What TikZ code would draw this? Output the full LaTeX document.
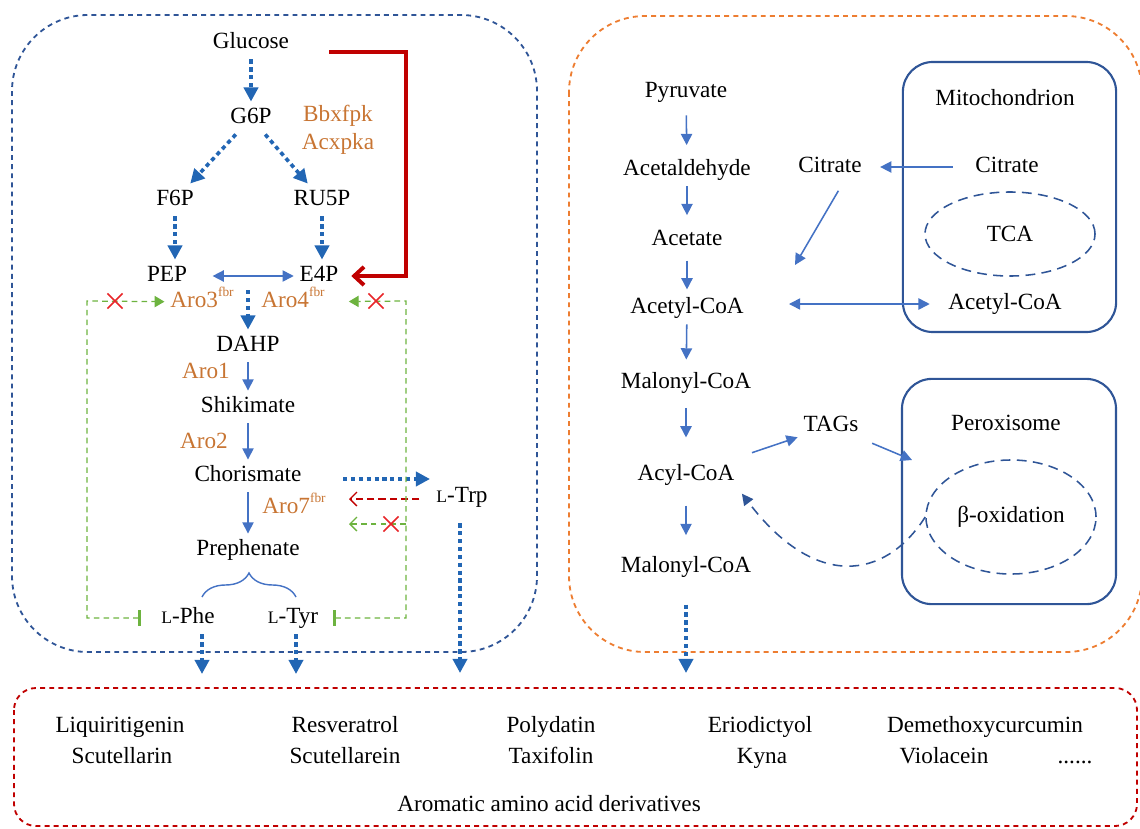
\documentclass[tikz,border=0pt]{standalone}
\usepackage{fontspec}
\setmainfont{Liberation Serif}
\usetikzlibrary{arrows.meta,shapes.geometric,shapes.misc,decorations.pathreplacing}

\definecolor{boxblue}{HTML}{2F5597}
\definecolor{flowblue}{HTML}{4472C4}
\definecolor{dotblue}{HTML}{2266B4}
\definecolor{enzorange}{HTML}{C87533}
\definecolor{cellorange}{HTML}{ED7D31}
\definecolor{darkred}{HTML}{C00000}
\definecolor{fbgreen}{HTML}{6DB33F}
\definecolor{xred}{HTML}{E8262A}

\newcommand{\Lconf}{{\fontsize{12.5}{13}\selectfont L}}
\newcommand{\fbrsup}{\raisebox{1.0ex}{\fontsize{9.5}{10}\selectfont fbr}}

\begin{document}
\begin{tikzpicture}[x=0.025cm, y=-0.025cm,
    every node/.style={font=\fontsize{16.5}{19}\selectfont},
    met/.style={text height=11.5pt, text depth=3.5pt, inner sep=4pt},
    enz/.style={met, text=enzorange},
    flow/.style={draw=flowblue, line width=1.1pt, -{Triangle[length=8pt,width=8pt]}},
    dotflow/.style={draw=dotblue, line width=2.6pt, dash pattern=on 3pt off 2.6pt, -{Triangle[length=10pt,width=10pt]}},
    redline/.style={draw=darkred, line width=2.8pt, -{Straight Barb[length=7pt,width=13pt]}},
    fbline/.style={draw=fbgreen, line width=0.9pt, dash pattern=on 4pt off 3pt},
    noeffect/.style={cross out, draw=xred, line width=1.2pt, minimum size=9.5pt, inner sep=0pt},
    compartment/.style={rounded corners=1.9cm, line width=1.3pt, dash pattern=on 3.5pt off 3pt},
    organelle/.style={draw=boxblue, line width=1.5pt, rounded corners=0.75cm},
    pool/.style={ellipse, draw=boxblue, line width=1.1pt, dash pattern=on 7pt off 4.5pt}
]
\useasboundingbox (0,0) rectangle (1140,829);

% Compartimentos
\draw[compartment, draw=boxblue] (12,15) rectangle (537,652);
\draw[compartment, draw=cellorange] (569,16) rectangle (1142,652);
\draw[compartment, draw=darkred, rounded corners=0.55cm] (14,688) rectangle (1137,826);

% Ruta del shikimato
\node[met] (glc) at (251,43) {Glucose};
\node[met] (g6p) at (251,118) {G6P};
\node[enz] (bbx) at (338,116) {Bbxfpk};
\node[enz] (acx) at (338,144) {Acxpka};
\node[met] (f6p) at (175,200) {F6P};
\node[met] (ru5p) at (322,200) {RU5P};
\node[met] (pep) at (167,276) {PEP};
\node[met] (e4p) at (319,276) {E4P};
\node[enz] (aro3) at (202,302) {Aro3\fbrsup};
\node[enz] (aro4) at (293,302) {Aro4\fbrsup};
\node[met] (dahp) at (248,346) {DAHP};
\node[enz] (aro1) at (206,373) {Aro1};
\node[met] (shik) at (248,407) {Shikimate};
\node[enz] (aro2) at (204,443) {Aro2};
\node[met] (chor) at (248,476) {Chorismate};
\node[enz] (aro7) at (294,508) {Aro7\fbrsup};
\node[met] (preph) at (248,550) {Prephenate};
\node[met] (phe) at (188,618) {\Lconf-Phe};
\node[met] (tyr) at (293,618) {\Lconf-Tyr};
\node[met] (trp) at (462,497) {\Lconf-Trp};

% Puntos libres
\coordinate (rs) at (329,52);
\coordinate (rc) at (406,52);
\coordinate (dahpin) at (248,290);
\coordinate (fbl) at (87,301);
\coordinate (fbr) at (406,301);
\coordinate (fbm) at (406,524);
\coordinate (fbmend) at (349,524);
\coordinate (chorout) at (343,479);
\coordinate (trpin) at (430,479);
\coordinate (trpback) at (349,499);
\coordinate (pheout) at (202,674);
\coordinate (tyrout) at (296,674);
\coordinate (trpout) at (460,673);
\coordinate (brl) at (202,597);
\coordinate (brr) at (296,597);

% Flechas
\draw[dotflow] (glc) -- (g6p);
\draw[dotflow] (g6p) -- (f6p);
\draw[dotflow] (g6p) -- (ru5p);
\draw[dotflow] (f6p) -- (f6p |- pep.north);
\draw[dotflow] (ru5p) -- (ru5p |- e4p.north);
\draw[flow, {Triangle[length=8pt,width=8pt]}-{Triangle[length=8pt,width=8pt]}, shorten <=14pt] (pep) -- (e4p);
\draw[redline, shorten >=5pt] (rs) -- (rc) |- (e4p);
\draw[dotflow] (dahpin) -- (dahp);
\draw[flow] (dahp) -- (shik);
\draw[flow] (shik) -- (chor);
\draw[flow] (chor) -- (preph);
\draw[draw=flowblue, line width=1pt, decorate, decoration={brace, amplitude=0.6cm}] (brl) -- (brr);
\draw[dotflow] (chorout) -- (trpin);
\draw[draw=darkred, line width=0.9pt, dash pattern=on 5pt off 3pt, -{Straight Barb[length=5pt,width=10pt]}, shorten <=8pt] (trp.west |- trpback) -- (trpback);
\draw[dotflow, shorten <=7pt] (trp.south -| trpout) -- (trpout);
\draw[dotflow] (phe.south -| pheout) -- (pheout);
\draw[dotflow] (tyr.south -| tyrout) -- (tyrout);

% Retroinhibicion
\draw[fbline, {Bar[width=11pt,line width=2.5pt]}-{Triangle[length=7pt,width=8pt]}, shorten <=10pt] (phe.west) -| (fbl) -- (aro3);
\draw[fbline, {Bar[width=11pt,line width=2.5pt]}-{Triangle[length=7pt,width=8pt]}, shorten <=6pt, shorten >=13pt] (tyr.east) -| (fbr) -- (aro4);
\draw[fbline, -{Straight Barb[length=5pt,width=10pt]}] (fbm) -- (fbmend);
\node[noeffect] (x3) at (115,301) {};
\node[noeffect] (x4) at (376,301) {};
\node[noeffect] (x7) at (391,524) {};

% Citosol
\node[met] (pyr) at (686,92) {Pyruvate};
\node[met] (acald) at (687,170) {Acetaldehyde};
\node[met] (acet) at (687,240) {Acetate};
\node[met] (accoa) at (687,308) {Acetyl-CoA};
\node[met] (mal1) at (686,383) {Malonyl-CoA};
\node[met] (acyl) at (686,475) {Acyl-CoA};
\node[met] (mal2) at (686,567) {Malonyl-CoA};
\node[met] (cit1) at (830,167) {Citrate};
\node[met] (tags) at (831,426) {TAGs};

% Mitocondria
\node[organelle, minimum width=5.33cm, minimum height=6.75cm] (mito) at (1009.5,197) {};
\node[met] (mitolab) at (1005,100) {Mitochondrion};
\node[met] (cit2) at (1007,167) {Citrate};
\node[pool, minimum width=4.25cm, minimum height=2.1cm] (tca) at (1010,234) {TCA};
\node[met] (accoa2) at (1005,304) {Acetyl-CoA};

% Peroxisoma
\node[organelle, minimum width=5.35cm, minimum height=5.63cm] (perox) at (1009,491.5) {};
\node[met] (peroxlab) at (1006,425) {Peroxisome};
\node[pool, minimum width=4.25cm, minimum height=2.85cm] (betaox) at (1011,517) {β-oxidation};

\coordinate (cytacc) at (795,265);
\coordinate (peroxin) at (912,460);
\coordinate (mal2out) at (686,673);

\draw[flow, shorten <=5pt, shorten >=6pt] (pyr) -- (acald);
\draw[flow, shorten >=6pt] (acald) -- (acet);
\draw[flow, shorten <=3pt, shorten >=1.5pt] (acet) -- (accoa);
\draw[flow, shorten >=5pt] (accoa) -- (mal1);
\draw[flow, shorten <=6pt, shorten >=15pt] (mal1) -- (acyl);
\draw[flow, shorten <=10pt, shorten >=11pt] (acyl) -- (mal2);
\draw[dotflow, shorten <=15pt] (mal2) -- (mal2out);
\draw[flow, shorten <=12pt, shorten >=9pt] (cit2) -- (cit1);
\draw[flow, shorten <=6pt] ([xshift=9pt]cit1.south) -- (cytacc);
\draw[flow, {Triangle[length=8pt,width=8pt]}-{Triangle[length=8pt,width=8pt]}, shorten <=28pt, shorten >=9pt] (accoa.east |- accoa2) -- (accoa2.west);
\draw[flow, shorten <=13pt] (acyl) -- (tags);
\draw[flow, shorten <=6pt] (tags) -- (peroxin);
\draw[draw=boxblue, line width=1.1pt, dash pattern=on 7pt off 5pt, -{Triangle[length=8pt,width=8pt]}, shorten >=2pt] (betaox.west) .. controls (885,580) and (815,590) .. (acyl.south east);

% Derivados
\node[met] (liq) at (120,727) {Liquiritigenin};
\node[met] (scn) at (122,758) {Scutellarin};
\node[met] (res) at (345,727) {Resveratrol};
\node[met] (scl) at (345,758) {Scutellarein};
\node[met] (pol) at (551,727) {Polydatin};
\node[met] (tax) at (551,758) {Taxifolin};
\node[met] (eri) at (760,727) {Eriodictyol};
\node[met] (kyn) at (762,758) {Kyna};
\node[met] (dem) at (985,727) {Demethoxycurcumin};
\node[met] (vio) at (944,758) {Violacein};
\node[met] (more) at (1075,758) {......};
\node[met] (aad) at (549,806) {Aromatic amino acid derivatives};
\end{tikzpicture}
\end{document}
